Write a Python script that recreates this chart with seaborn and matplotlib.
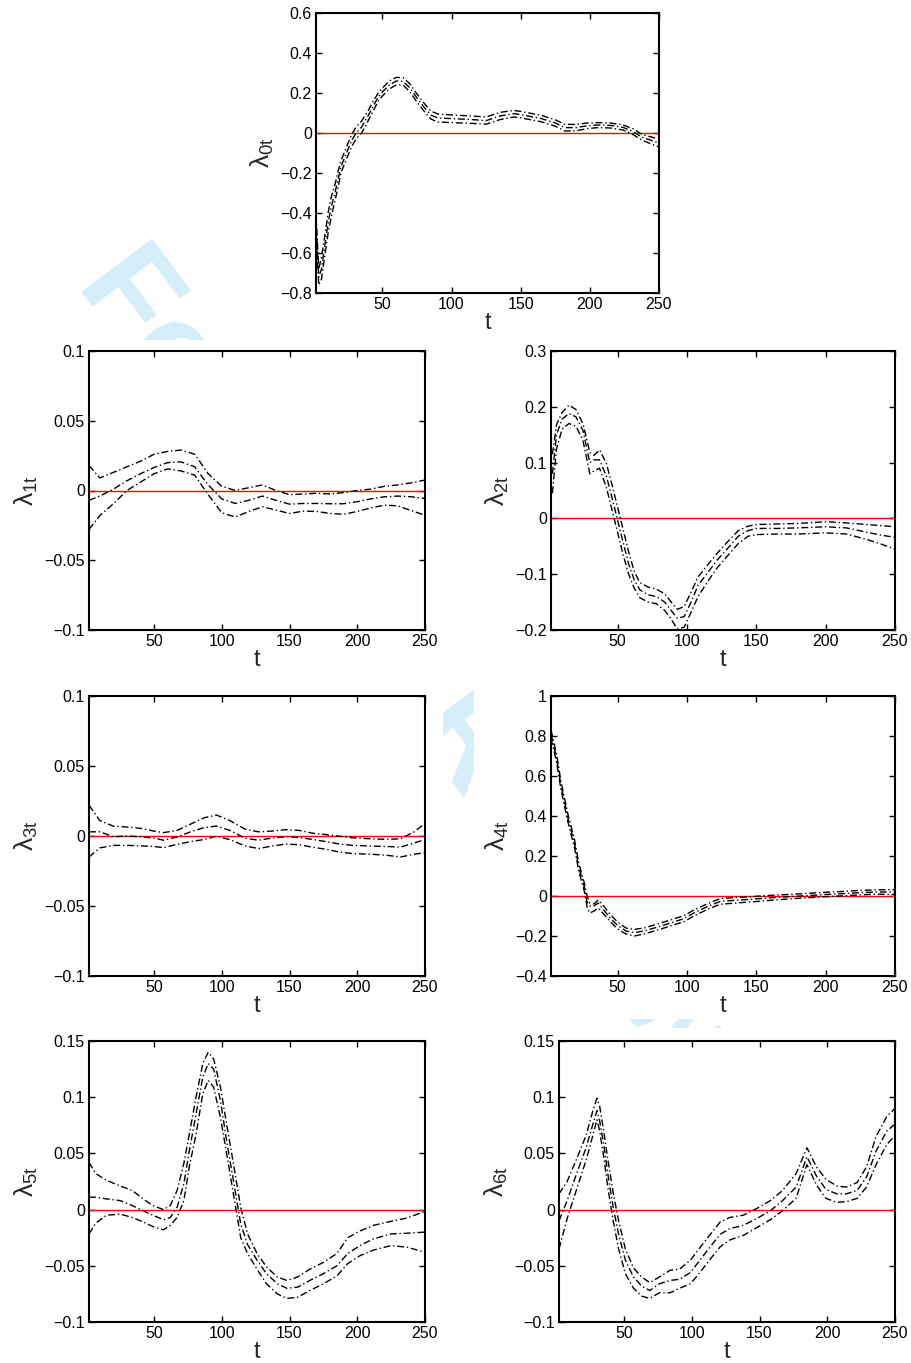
import matplotlib
matplotlib.use("Agg")
import matplotlib.pyplot as plt
import seaborn as sns
from matplotlib.patches import Rectangle
from matplotlib.ticker import FuncFormatter

# %% data (lower, middle, upper curve of each panel)
t0 = [1, 2, 4, 6, 8, 11, 13, 16, 18, 20, 24, 28, 31, 35, 40, 43, 47, 50, 55, 60, 65, 70,
      75, 80, 85, 90, 100, 115, 125, 135, 145, 150, 165, 175, 182, 190, 198, 206, 215,
      224, 231, 238, 250]
lam0_mid = [-0.25, -0.45, -0.72, -0.68, -0.58, -0.44, -0.37, -0.29, -0.23, -0.17, -0.10,
            -0.035, 0.0, 0.03, 0.09, 0.13, 0.18, 0.205, 0.24, 0.26, 0.258, 0.225, 0.175,
            0.13, 0.09, 0.075, 0.072, 0.067, 0.062, 0.085, 0.097, 0.092, 0.072, 0.05,
            0.027, 0.027, 0.036, 0.04, 0.038, 0.028, 0.008, -0.022, -0.05]
lam0_hi = [-0.2, -0.4, -0.68, -0.62, -0.53, -0.39, -0.32, -0.25, -0.19, -0.14, -0.07,
           -0.005, 0.03, 0.06, 0.115, 0.155, 0.2, 0.225, 0.26, 0.278, 0.277, 0.245, 0.195,
           0.15, 0.11, 0.095, 0.09, 0.085, 0.08, 0.103, 0.113, 0.108, 0.088, 0.066, 0.043,
           0.043, 0.05, 0.052, 0.05, 0.04, 0.022, -0.008, -0.03]
lam0_lo = [-0.3, -0.5, -0.76, -0.73, -0.63, -0.49, -0.42, -0.33, -0.27, -0.2, -0.13,
           -0.065, -0.03, 0.0, 0.065, 0.105, 0.16, 0.185, 0.22, 0.24, 0.24, 0.205, 0.155,
           0.11, 0.07, 0.055, 0.052, 0.048, 0.044, 0.067, 0.08, 0.076, 0.056, 0.034, 0.01,
           0.011, 0.022, 0.027, 0.025, 0.015, -0.007, -0.037, -0.07]

t1 = [2, 10, 20, 30, 40, 50, 60, 70, 80, 90, 100, 110, 120, 130, 140, 150, 160, 170, 180,
      190, 200, 210, 220, 230, 240, 250]
lam1_hi = [0.018, 0.009, 0.013, 0.017, 0.021, 0.026, 0.028, 0.029, 0.026, 0.012, 0.003,
           0.0, 0.002, 0.004, 0.0, -0.003, -0.0025, -0.002, -0.0025, -0.0015, 0.0, 0.001,
           0.003, 0.004, 0.0055, 0.0075]
lam1_mid = [-0.007, -0.004, 0.001, 0.007, 0.012, 0.0165, 0.02, 0.0205, 0.017, 0.004,
            -0.006, -0.0093, -0.007, -0.004, -0.007, -0.0098, -0.0093, -0.0093, -0.0095,
            -0.0095, -0.008, -0.006, -0.0045, -0.004, -0.0045, -0.0057]
lam1_lo = [-0.028, -0.018, -0.0095, 0.0, 0.006, 0.012, 0.0155, 0.014, 0.011, -0.003,
           -0.016, -0.019, -0.015, -0.0117, -0.014, -0.0165, -0.0148, -0.015, -0.0165,
           -0.017, -0.015, -0.0125, -0.0105, -0.011, -0.0145, -0.0177]

t2 = [3, 6, 10, 15, 20, 25, 30, 33, 37, 42, 46, 50, 54, 58, 62, 66, 72, 78, 84, 88, 93, 98,
      103, 108, 115, 122, 130, 137, 144, 150, 165, 180, 200, 215, 230, 240, 250]
lam2_mid = [0.08, 0.15, 0.178, 0.188, 0.182, 0.158, 0.1, 0.105, 0.105, 0.075, 0.037,
            -0.003, -0.043, -0.082, -0.11, -0.128, -0.137, -0.14, -0.15, -0.163, -0.179,
            -0.176, -0.15, -0.12, -0.097, -0.074, -0.052, -0.032, -0.022, -0.018, -0.018,
            -0.017, -0.015, -0.017, -0.025, -0.03, -0.034]
lam2_hi = [0.115, 0.168, 0.19, 0.203, 0.195, 0.17, 0.118, 0.113, 0.123, 0.098, 0.06, 0.02,
           -0.02, -0.06, -0.095, -0.115, -0.123, -0.127, -0.135, -0.148, -0.163, -0.158,
           -0.132, -0.105, -0.083, -0.062, -0.04, -0.022, -0.014, -0.011, -0.01, -0.009,
           -0.006, -0.008, -0.011, -0.013, -0.015]
lam2_lo = [0.045, 0.125, 0.16, 0.17, 0.165, 0.14, 0.08, 0.085, 0.09, 0.055, 0.015, -0.025,
           -0.065, -0.1, -0.125, -0.142, -0.15, -0.153, -0.165, -0.178, -0.198, -0.195,
           -0.168, -0.14, -0.113, -0.088, -0.065, -0.045, -0.032, -0.029, -0.028, -0.028,
           -0.026, -0.028, -0.038, -0.046, -0.055]

t3 = [2, 10, 20, 30, 40, 50, 57, 67, 77, 87, 96, 106, 117, 127, 137, 147, 157, 167, 177,
      187, 197, 210, 222, 232, 242, 250]
lam3_hi = [0.022, 0.011, 0.007, 0.0064, 0.0055, 0.0035, 0.0024, 0.004, 0.0085, 0.013,
           0.015, 0.011, 0.005, 0.003, 0.0035, 0.0045, 0.004, 0.002, 0.001, -0.0002,
           -0.0013, -0.002, -0.0024, -0.002, 0.003, 0.009]
lam3_mid = [0.003, 0.003, -0.0005, 0.0, -0.0005, -0.0015, -0.003, -0.0007, 0.003, 0.006,
            0.0071, 0.004, -0.0015, -0.003, -0.0015, -0.0005, -0.001, -0.0025, -0.004,
            -0.0058, -0.0067, -0.0072, -0.0075, -0.0079, -0.005, -0.0026]
lam3_lo = [-0.015, -0.0085, -0.0067, -0.0067, -0.007, -0.0075, -0.0083, -0.006, -0.004,
           -0.0025, -0.0002, -0.0026, -0.007, -0.009, -0.0072, -0.0058, -0.0062, -0.008,
           -0.0095, -0.0115, -0.0126, -0.013, -0.0138, -0.015, -0.013, -0.012]

t4 = [2, 6, 9, 14, 19, 22, 26, 28, 30, 33, 36, 40, 45, 50, 56, 62, 69, 79, 88, 98, 105,
      115, 124, 134, 143, 153, 165, 177, 189, 201, 213, 225, 237, 250]
lam4_mid = [0.81, 0.69, 0.56, 0.395, 0.26, 0.145, 0.045, -0.03, -0.05, -0.05, -0.035,
            -0.07, -0.113, -0.147, -0.175, -0.183, -0.175, -0.155, -0.135, -0.113, -0.085,
            -0.052, -0.027, -0.022, -0.018, -0.013, -0.007, -0.002, 0.003, 0.008, 0.012,
            0.017, 0.02, 0.02]
lam4_hi = [0.83, 0.71, 0.58, 0.415, 0.28, 0.165, 0.065, 0.0, -0.035, -0.04, -0.02, -0.05,
           -0.095, -0.13, -0.16, -0.167, -0.16, -0.14, -0.12, -0.098, -0.07, -0.038,
           -0.013, -0.008, -0.005, 0.0, 0.005, 0.009, 0.014, 0.019, 0.023, 0.028, 0.031,
           0.032]
lam4_lo = [0.79, 0.67, 0.54, 0.375, 0.24, 0.125, 0.025, -0.055, -0.085, -0.075, -0.06,
           -0.09, -0.13, -0.165, -0.19, -0.2, -0.19, -0.17, -0.15, -0.128, -0.1, -0.066,
           -0.041, -0.036, -0.031, -0.026, -0.019, -0.013, -0.008, -0.003, 0.001, 0.006,
           0.009, 0.008]

t5 = [2, 7, 15, 25, 34, 42, 49, 57, 62, 67, 72, 76, 81, 86, 90, 94, 99, 104, 109, 114, 119,
      126, 133, 141, 148, 156, 165, 175, 185, 193, 202, 212, 225, 237, 250]
lam5_hi = [0.042, 0.032, 0.026, 0.021, 0.017, 0.0095, 0.0036, 0.0, 0.0036, 0.017, 0.041,
           0.067, 0.1, 0.13, 0.14, 0.134, 0.109, 0.073, 0.038, 0.002, -0.0216, -0.039,
           -0.051, -0.06, -0.063, -0.06, -0.053, -0.047, -0.039, -0.025, -0.019, -0.014,
           -0.0104, -0.0074, -0.0015]
lam5_mid = [0.011, 0.011, 0.0095, 0.008, 0.0036, -0.001, -0.005, -0.009, -0.007, 0.002,
            0.023, 0.052, 0.085, 0.118, 0.13, 0.125, 0.097, 0.058, 0.023, -0.013, -0.031,
            -0.045, -0.057, -0.066, -0.07, -0.069, -0.063, -0.057, -0.05, -0.039, -0.032,
            -0.026, -0.0216, -0.021, -0.02]
lam5_lo = [-0.0216, -0.012, -0.005, -0.004, -0.007, -0.011, -0.015, -0.018, -0.014,
           -0.007, 0.008, 0.038, 0.067, 0.103, 0.115, 0.109, 0.082, 0.047, 0.011, -0.025,
           -0.039, -0.053, -0.066, -0.075, -0.079, -0.078, -0.072, -0.066, -0.059, -0.048,
           -0.041, -0.036, -0.032, -0.0335, -0.038]

t6 = [2, 8, 15, 22, 27, 30, 32, 35, 38, 42, 46, 51, 57, 63, 69, 76, 84, 91, 99, 106, 113,
      121, 128, 138, 148, 158, 167, 177, 185, 192, 199, 207, 214, 222, 229, 236, 244, 250]
lam6_mid = [-0.01, 0.008, 0.032, 0.055, 0.076, 0.088, 0.079, 0.058, 0.032, 0.002, -0.022,
            -0.045, -0.06, -0.068, -0.072, -0.066, -0.063, -0.062, -0.056, -0.045, -0.034,
            -0.022, -0.017, -0.014, -0.008, -0.001, 0.008, 0.02, 0.047, 0.03, 0.018, 0.014,
            0.014, 0.017, 0.029, 0.052, 0.07, 0.076]
lam6_hi = [0.014, 0.025, 0.045, 0.066, 0.088, 0.099, 0.092, 0.07, 0.045, 0.015, -0.01,
           -0.035, -0.052, -0.06, -0.065, -0.06, -0.054, -0.053, -0.045, -0.034, -0.023,
           -0.011, -0.007, -0.005, 0.001, 0.008, 0.017, 0.032, 0.055, 0.038, 0.027, 0.021,
           0.02, 0.024, 0.038, 0.065, 0.083, 0.09]
lam6_lo = [-0.035, -0.008, 0.018, 0.044, 0.066, 0.08, 0.07, 0.047, 0.02, -0.01, -0.035,
           -0.057, -0.07, -0.077, -0.079, -0.074, -0.074, -0.07, -0.066, -0.056, -0.045,
           -0.033, -0.027, -0.023, -0.016, -0.009, -0.001, 0.01, 0.04, 0.022, 0.01, 0.0065,
           0.007, 0.01, 0.02, 0.04, 0.058, 0.066]

x_ticks = [50, 100, 150, 200, 250]
y_ticks = {
    0: [-0.8, -0.6, -0.4, -0.2, 0, 0.2, 0.4, 0.6],
    1: [-0.1, -0.05, 0, 0.05, 0.1],
    2: [-0.2, -0.1, 0, 0.1, 0.2, 0.3],
    3: [-0.1, -0.05, 0, 0.05, 0.1],
    4: [-0.4, -0.2, 0, 0.2, 0.4, 0.6, 0.8, 1],
    5: [-0.1, -0.05, 0, 0.05, 0.1, 0.15],
    6: [-0.1, -0.05, 0, 0.05, 0.1, 0.15],
}
panels = {
    0: (t0, lam0_lo, lam0_mid, lam0_hi),
    1: (t1, lam1_lo, lam1_mid, lam1_hi),
    2: (t2, lam2_lo, lam2_mid, lam2_hi),
    3: (t3, lam3_lo, lam3_mid, lam3_hi),
    4: (t4, lam4_lo, lam4_mid, lam4_hi),
    5: (t5, lam5_lo, lam5_mid, lam5_hi),
    6: (t6, lam6_lo, lam6_mid, lam6_hi),
}

# %% style
sns.set_theme(style="ticks")
plt.rcParams["font.family"] = ["Liberation Sans", "DejaVu Sans"]
plt.rcParams["mathtext.fontset"] = "custom"
plt.rcParams["mathtext.rm"] = "Liberation Sans"
plt.rcParams["mathtext.it"] = "Liberation Sans"

W, H = 911, 1363
fig = plt.figure(figsize=(W / 100, H / 100), dpi=100)

# axes boxes in pixels: left, top, right, bottom
boxes = {
    0: (316, 13, 659, 293),
    1: (89, 351, 425, 630),
    2: (551, 351, 895, 630),
    3: (89, 696, 425, 976),
    4: (551, 696, 895, 976),
    5: (89, 1041, 425, 1322),
    6: (559, 1041, 895, 1322),
}

# white tiles of the pasted panels, they hide most of the watermark
tiles = [
    (235, 0, 690, 335),
    (0, 340, 443, 682), (474, 340, 911, 682),
    (0, 682, 443, 1019), (474, 682, 911, 1019),
    (0, 1028, 443, 1363), (474, 1028, 911, 1363),
]
for l, tp, r, b in tiles:
    fig.add_artist(Rectangle((l / W, 1 - b / H), (r - l) / W, (b - tp) / H,
                             transform=fig.transFigure, facecolor="white",
                             edgecolor="none", zorder=-0.5))

fig.text(76 / W, 1 - 284 / H, "For Peer Review", fontsize=92, fontweight="bold",
         color="#d5eefa", rotation=-53, rotation_mode="anchor", ha="left",
         va="baseline", zorder=-1)

fmt = FuncFormatter(lambda v, p: ("%g" % round(v, 3)).replace("-", "\u2212"))
dash_dot = (0, (5, 2, 1, 2))

for k, (t, lo, mid, hi) in panels.items():
    l, tp, r, b = boxes[k]
    ax = fig.add_axes([l / W, 1 - b / H, (r - l) / W, (b - tp) / H])
    for vals in (lo, mid, hi):
        sns.lineplot(x=t, y=vals, ax=ax, color="black", linewidth=1.0,
                     linestyle=dash_dot, sort=False, estimator=None)
    ax.axhline(0, color="red", linewidth=1.0, zorder=1)
    ax.set_xlim(2, 250)
    ax.set_ylim(y_ticks[k][0], y_ticks[k][-1])
    ax.set_xticks(x_ticks)
    ax.set_yticks(y_ticks[k])
    ax.yaxis.set_major_formatter(fmt)
    ax.tick_params(direction="in", top=True, right=True, length=4, width=1,
                   labelsize=11.5, colors="black", pad=3)
    for sp in ax.spines.values():
        sp.set_linewidth(1.5)
        sp.set_color("black")
    ax.set_xlabel("t", fontsize=17, labelpad=0)
    ax.set_ylabel(r"λ$_{\mathrm{%dt}}$" % k, fontsize=19, labelpad=3)
    ax.set_facecolor("white")

fig.savefig("out.png", dpi=100)
